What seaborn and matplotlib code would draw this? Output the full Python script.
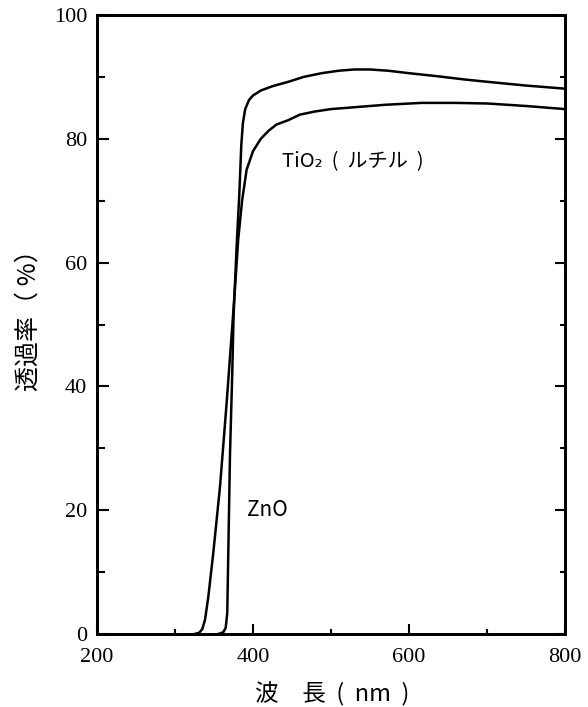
"""Transmittance spectra of ZnO and rutile TiO2 powders."""

import matplotlib

matplotlib.use("Agg")
import matplotlib.pyplot as plt
import pandas as pd
import seaborn as sns

# wavelength (nm) / transmittance (%)
zno_nm = [355, 358, 362, 365, 367, 368.3, 370.5, 373.5, 375, 379, 382.5, 385, 387, 390,
          395, 400, 410, 425, 445, 465, 488, 510, 530, 550, 573, 600, 637, 670, 701, 750, 800]
zno_t = [0, 0.1, 0.3, 1.0, 3.4, 13, 29, 42.6, 51, 62.6, 71.2, 79, 82.5, 84.8,
         86.3, 87, 87.8, 88.5, 89.2, 90, 90.6, 91, 91.2, 91.2, 91, 90.6, 90.1, 89.6, 89.2, 88.6, 88.1]

tio2_nm = [325, 331, 335, 338.5, 342.7, 349, 357.7, 366, 374, 378, 381, 386, 391.8, 400,
           410, 420, 430, 445, 460, 479, 500, 530, 570, 616, 660, 701, 750, 800]
tio2_t = [0, 0.2, 0.8, 2.3, 6, 13, 23.8, 37, 50.7, 58, 63.7, 70, 75, 78,
          80, 81.3, 82.3, 83, 83.9, 84.4, 84.8, 85.1, 85.5, 85.8, 85.8, 85.7, 85.3, 84.8]

x_major = [200, 400, 600, 800]
x_minor = [300, 500, 700]
y_major = [0, 20, 40, 60, 80, 100]
y_minor = [10, 30, 50, 70, 90]

CJK = ["Noto Sans CJK JP", "DejaVu Sans"]
NUM_FONT = "Liberation Serif"


def main() -> None:
    sns.set_style("ticks")
    plt.rcParams["font.family"] = CJK
    plt.rcParams.update({
        "text.color": "black",
        "axes.labelcolor": "black",
        "xtick.color": "black",
        "ytick.color": "black",
    })

    df = pd.concat(
        [
            pd.DataFrame({"nm": zno_nm, "t": zno_t, "sample": "ZnO"}),
            pd.DataFrame({"nm": tio2_nm, "t": tio2_t, "sample": "TiO2"}),
        ],
        ignore_index=True,
    )

    fig = plt.figure(figsize=(5.88, 7.07), dpi=100)
    ax = fig.add_axes([97 / 588, 73 / 707, 468 / 588, 619 / 707])

    sns.lineplot(
        data=df, x="nm", y="t", units="sample", estimator=None,
        color="black", linewidth=1.8, legend=False, ax=ax,
    )

    ax.set_xlim(200, 800)
    ax.set_ylim(0, 100)
    ax.set_xticks(x_major)
    ax.set_xticks(x_minor, minor=True)
    ax.set_yticks(y_major)
    ax.set_yticks(y_minor, minor=True)
    ax.set_xticklabels([str(v) for v in x_major], family=NUM_FONT, fontsize=16)
    ax.set_yticklabels([str(v) for v in y_major], family=NUM_FONT, fontsize=16)

    ax.tick_params(axis="x", which="major", direction="in", length=7.2, width=1.5, pad=10)
    ax.tick_params(axis="x", which="minor", direction="in", length=3.6, width=1.5)
    ax.tick_params(axis="y", which="major", direction="in", length=8.6, width=1.5, pad=7)
    ax.tick_params(axis="y", which="minor", direction="in", length=5.8, width=1.5)

    # right-hand ticks are a little shorter than the left ones
    ax_r = ax.twinx()
    ax_r.set_ylim(0, 100)
    ax_r.set_yticks(y_major)
    ax_r.set_yticks(y_minor, minor=True)
    ax_r.set_yticklabels([])
    ax_r.tick_params(axis="y", which="major", direction="in", length=7.2, width=1.5)
    ax_r.tick_params(axis="y", which="minor", direction="in", length=3.6, width=1.5)

    for a in (ax, ax_r):
        for spine in a.spines.values():
            spine.set_visible(True)
            spine.set_linewidth(2.0)
            spine.set_color("black")

    ax.set_xlabel("波　長  (  nm  )", fontsize=17)
    ax.set_ylabel("透過率（ %）", fontsize=18)
    ax.xaxis.set_label_coords(0.502, -0.0775)
    ax.yaxis.set_label_coords(-0.1175, 0.517)

    ax.text(437, 76.3, "TiO₂  (  ルチル  )", fontsize=14.5, ha="left", va="center")
    ax.text(392, 20, "ZnO", fontsize=15, ha="left", va="center")

    fig.savefig("out.png", dpi=100)
    plt.close(fig)


if __name__ == "__main__":
    main()
